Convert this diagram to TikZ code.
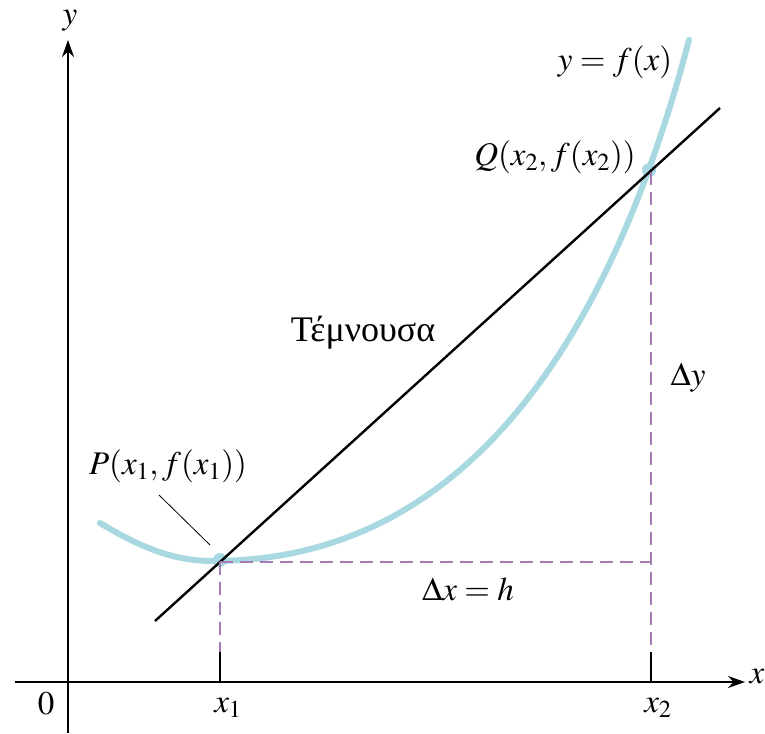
\documentclass[tikz,border=0pt]{standalone}
\usepackage{mathptmx}
\usepackage{fontspec}
\setmainfont{Liberation Serif}
\usetikzlibrary{arrows.meta}
\definecolor{curveblue}{HTML}{A8D8E0}
\definecolor{guidepurple}{HTML}{A57BB5}
\newcommand\figfont{\fontsize{33}{38}\selectfont}

\begin{document}
\begin{tikzpicture}[x=1pt,y=-1pt,>={Stealth[length=17pt,width=12pt]},
  every node/.style={font=\figfont,inner sep=1pt},
  axis/.style={line width=2.2pt},
  guide/.style={guidepurple,line width=2pt,dash pattern=on 13pt off 7pt}]

\useasboundingbox (0,0) rectangle (765,733);

% ============================================
% AXES
% ============================================
        % Coordinates
        \coordinate (Xs) at (15,682);
        \coordinate (Xe) at (745,682);
        \coordinate (Ys) at (68,733);
        \coordinate (Ye) at (68,40);
        \coordinate (T1) at (220,682);
        \coordinate (T2) at (651,682);
        % Axis lines
        \draw[axis,->] (Xs) -- (Xe);
        \draw[axis,->] (Ys) -- (Ye);
        % Axis labels
        \node (xlab) at (757,677) {$x$};
        \node (ylab) at (70,21) {$y$};
        \node (zero) at (46,704) {$0$};
        \node (xone) at (228,708) {$x_1$};
        \node (xtwo) at (658,708) {$x_2$};

% ============================================
% CURVE AND SECANT
% ============================================
        % Coordinates
        \coordinate (P) at (220,560);
        \coordinate (Q) at (649,170);
        \coordinate (S1) at (155,621);
        \coordinate (S2) at (720,108);
        % Curve y = f(x)
        \draw[curveblue,line width=6pt,line cap=round]
          (100,523) .. controls (140,547) and (173,561) .. (213,561)
                    .. controls (463,561) and (609,344) .. (689,40);
        \fill[curveblue] (P) circle (7pt);
        \fill[curveblue] (Q) circle (7pt);
        % Secant
        \draw[line width=2.4pt] (S1) -- (S2);

% ============================================
% INCREMENTS (dashed)
% ============================================
        \coordinate (K1) at (220,652);
        \coordinate (K2) at (651,652);
        \coordinate (C) at (220,562);
        \coordinate (R) at (651,562);
        \coordinate (Qd) at (651,172);
        \draw[axis] (K1) -- (T1);
        \draw[axis] (K2) -- (T2);
        \draw[guide] (C) -- (K1);
        \draw[guide] (C) -- (R);
        \draw[guide] (Qd) -- (K2);

% ============================================
% LABELS
% ============================================
        \node (curvelab) at (615,62) {$y=f(x)$};
        \node (qlab) at (555,157) {$Q(x_2, f(x_2))$};
        \node[font=\fontsize{36}{40}\selectfont] (secant) at (363,333) {Τέμνουσα};
        \node (dylab) at (688,378) {$\Delta y$};
        \node (dxlab) at (468,589) {$\Delta x=h$};
        \node (plab) at (168,466) {$P(x_1, f(x_1))$};
        % Leader to P
        \coordinate (L1) at (159,495);
        \coordinate (L2) at (210,545);
        \draw[line width=0.8pt] (L1) -- (L2);
\end{tikzpicture}
\end{document}
